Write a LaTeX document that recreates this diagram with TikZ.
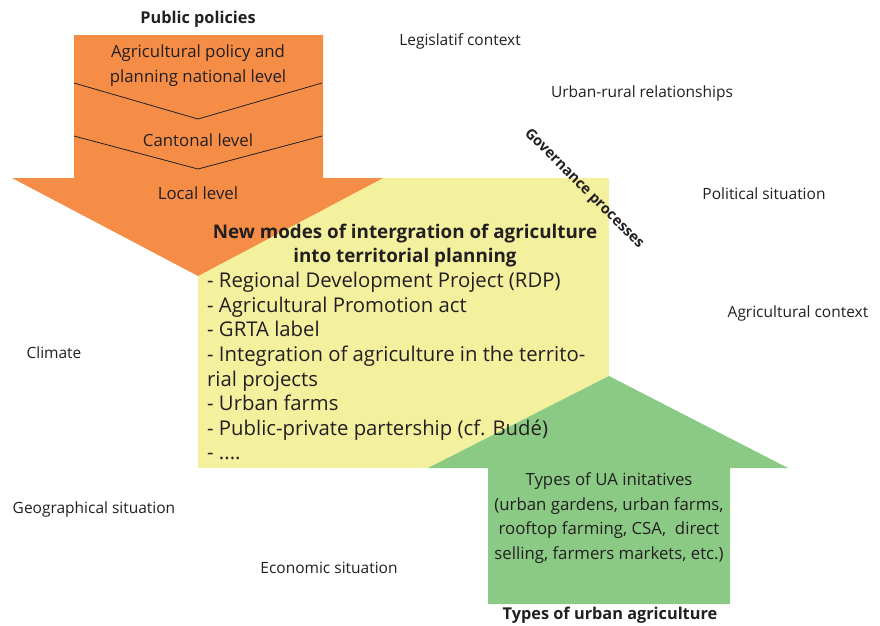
\documentclass[tikz,border=0pt]{standalone}
\usepackage{fontspec}
\setmainfont{Open Sans}
\definecolor{orangeA}{HTML}{F68D47}
\definecolor{yellowA}{HTML}{F3F09E}
\definecolor{greenA}{HTML}{8BCA85}
\definecolor{inkA}{HTML}{231F20}
\begin{document}
\begin{tikzpicture}[x=1pt,y=-1pt,
  every node/.style={text=inkA,inner sep=0pt},
  ctx/.style={font=\fontsize{15.5}{18}\selectfont},
  arrtxt/.style={font=\fontsize{16.8}{24.6}\selectfont,align=center},
  hdr/.style={font=\fontsize{16.3}{18}\selectfont\bfseries},
  divline/.style={draw=inkA,line width=0.8pt}]
\useasboundingbox (0,0) rectangle (880,625);
% yellow box
\fill[yellowA] (198,178) rectangle (609,468);
% orange arrow
\fill[orangeA] (74,35) -- (323,35) -- (323,178) -- (383,178) -- (198,276) -- (12,178) -- (74,178) -- cycle;
\coordinate (l1a) at (74,83); \coordinate (l1b) at (198,119); \coordinate (l1c) at (322,83);
\coordinate (l2a) at (74,136); \coordinate (l2b) at (198,169); \coordinate (l2c) at (322,136);
\draw[divline] (l1a) -- (l1b) -- (l1c);
\draw[divline] (l2a) -- (l2b) -- (l2c);
% green arrow
\fill[greenA] (488,604) -- (730,604) -- (730,468) -- (788,468) -- (609,376) -- (428,468) -- (488,468) -- cycle;
% orange texts
\node[hdr] (pp) at (198,19) {Public policies};
\node[arrtxt] (nat) at (198,65.5) {Agricultural policy and\\planning national level};
\node[arrtxt] (cant) at (198,140.5) {Cantonal level};
\node[arrtxt] (loc) at (198,193) {Local level};
% yellow texts
\node[font=\fontsize{18.8}{24}\selectfont\bfseries,align=center] (title) at (405,246) {New modes of intergration of agriculture\\into territorial planning};
\node[font=\fontsize{20.3}{24.6}\selectfont,align=left,anchor=north west] (list) at (207,272) {- Regional Development Project (RDP)\\- Agricultural Promotion act\\- GRTA label\\- Integration of agriculture in the territo-\\rial projects\\- Urban farms\\- Public-private partership (cf. Budé)\\- ....};
% green texts
\node[arrtxt] (ua) at (609,518) {Types of UA initatives\\(urban gardens, urban farms,\\rooftop farming, CSA,\ \ direct\\selling, farmers markets, etc.)};
\node[hdr] (tua) at (610,615) {Types of urban agriculture};
% context labels
\node[ctx] (leg) at (460,41) {Legislatif context};
\node[ctx] (urr) at (642,93) {Urban-rural relationships};
\node[ctx] (pol) at (764,194) {Political situation};
\node[ctx] (agc) at (798,313) {Agricultural context};
\node[ctx] (cli) at (54,353) {Climate};
\node[ctx] (geo) at (94,509) {Geographical situation};
\node[ctx] (eco) at (329,568) {Economic situation};
\node[font=\fontsize{14.6}{18}\selectfont\bfseries,rotate=-45] (gov) at (584,189) {Governance processes};
\end{tikzpicture}
\end{document}
